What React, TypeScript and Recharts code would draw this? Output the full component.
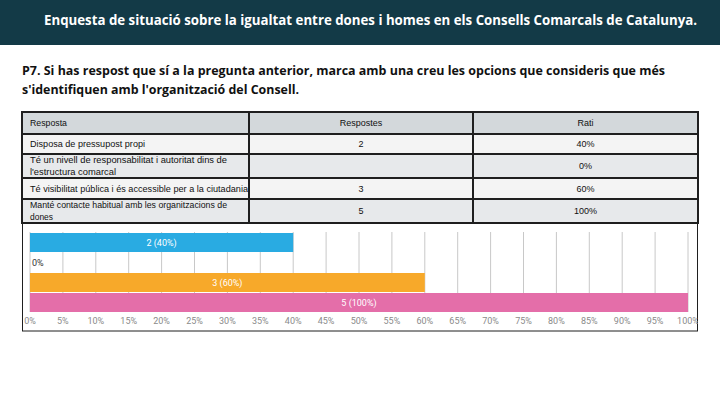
import React from "react";
import { BarChart, Bar, XAxis, YAxis, CartesianGrid, Cell, LabelList } from "recharts";

// ---- data ----
const titleText = "Enquesta de situació sobre la igualtat entre dones i homes en els Consells Comarcals de Catalunya.";
const questionLines = [
  "P7. Si has respost que sí a la pregunta anterior, marca amb una creu les opcions que consideris que més",
  "s'identifiquen amb l'organització del Consell.",
];
const tableHeaders = ["Resposta", "Respostes", "Rati"];
const categories = [
  "Disposa de pressupost propi",
  "Té un nivell de responsabilitat i autoritat dins de l'estructura comarcal",
  "Té visibilitat pública i és accessible per a la ciutadania",
  "Manté contacte habitual amb les organitzacions de dones",
];
const categoryLines = [
  ["Disposa de pressupost propi"],
  ["Té un nivell de responsabilitat i autoritat dins de", "l'estructura comarcal"],
  ["Té visibilitat pública i és accessible per a la ciutadania"],
  ["Manté contacte habitual amb les organitzacions de", "dones"],
];
const counts: (number | null)[] = [2, null, 3, 5];
const ratios = [40, 0, 60, 100];
const barColors = ["#29abe2", "transparent", "#f7a92a", "#e46ea9"];
const xTicks = [0, 5, 10, 15, 20, 25, 30, 35, 40, 45, 50, 55, 60, 65, 70, 75, 80, 85, 90, 95, 100];

const data = categories.map((name, i) => ({
  name,
  value: ratios[i],
  count: counts[i],
  label: ratios[i] > 0 ? `${counts[i]} (${ratios[i]}%)` : "0%",
}));

// ---- layout (page furniture) ----
const colX = [22, 249, 473, 698];
const rowY = [112, 134, 154, 178, 199, 223];
const rowFills = ["#d3d8db", "#f4f4f4", "#e7e9eb", "#f4f4f4", "#e7e9eb"];
const lineWidths: Record<string, number> = {
  "Resposta": 37,
  "Disposa de pressupost propi": 115,
  "Té un nivell de responsabilitat i autoritat dins de": 197,
  "l'estructura comarcal": 86,
  "Té visibilitat pública i és accessible per a la ciutadania": 218,
  "Manté contacte habitual amb les organitzacions de": 197,
  "dones": 23,
};

const headFont = "'Open Sans', 'Liberation Sans', sans-serif";
const smallFont = "'Liberation Sans', Arial, sans-serif";
const chartFont = "Roboto, 'Noto Sans', sans-serif";

const BarLabel = (props: any) => {
  const { x, y, width, height, value } = props;
  if (value === "0%") {
    return (
      <text x={x + 2} y={y + height / 2} dy="0.35em" fontSize={9} fill="#333" fontFamily={chartFont}>
        {value}
      </text>
    );
  }
  return (
    <text
      x={x + width / 2}
      y={y + height / 2}
      dy="0.35em"
      textAnchor="middle"
      fontSize={9}
      fill="#ffffff"
      fontFamily={chartFont}
    >
      {value}
    </text>
  );
};

export default function App() {
  return (
    <div style={{ position: "absolute", left: 0, top: 0, width: 720, height: 405, background: "#fff", overflow: "hidden" }}>
      <svg width={720} height={405} style={{ position: "absolute", left: 0, top: 0 }}>
        <rect x={0} y={0} width={720} height={45} fill="#133a47" />
        <text
          x={44}
          y={25}
          fontSize={14}
          fontWeight={700}
          fill="#ffffff"
          fontFamily={headFont}
          textLength={653}
          lengthAdjust="spacingAndGlyphs"
        >
          {titleText}
        </text>
        <text x={22} y={75} fontSize={13} fontWeight={700} fill="#111" fontFamily={headFont} textLength={643} lengthAdjust="spacingAndGlyphs">
          {questionLines[0]}
        </text>
        <text x={22} y={94} fontSize={13} fontWeight={700} fill="#111" fontFamily={headFont} textLength={277} lengthAdjust="spacingAndGlyphs">
          {questionLines[1]}
        </text>

        {/* table fills */}
        {rowFills.map((f, r) => (
          <rect key={"f" + r} x={colX[0]} y={rowY[r]} width={colX[3] - colX[0]} height={rowY[r + 1] - rowY[r]} fill={f} />
        ))}
        {/* header texts */}
        <text x={30} y={126} fontSize={9} fill="#111" fontFamily={smallFont} textLength={lineWidths["Resposta"]} lengthAdjust="spacingAndGlyphs">
          {tableHeaders[0]}
        </text>
        <text x={(colX[1] + colX[2]) / 2} y={126} fontSize={9} fill="#111" textAnchor="middle" fontFamily={smallFont}>
          {tableHeaders[1]}
        </text>
        <text x={(colX[2] + colX[3]) / 2} y={126} fontSize={9} fill="#111" textAnchor="middle" fontFamily={smallFont}>
          {tableHeaders[2]}
        </text>
        {categoryLines.map((lines, i) => {
          const top = rowY[i + 1];
          const bottom = rowY[i + 2];
          const mid = (top + bottom) / 2;
          const n = lines.length;
          return (
            <g key={"r" + i}>
              {lines.map((ln, k) => (
                <text
                  key={k}
                  x={30}
                  y={mid + (k - (n - 1) / 2) * 12 + 3}
                  fontSize={9}
                  fill="#111"
                  fontFamily={smallFont}
                  textLength={lineWidths[ln]}
                  lengthAdjust="spacingAndGlyphs"
                >
                  {ln}
                </text>
              ))}
              {counts[i] !== null && (
                <text x={(colX[1] + colX[2]) / 2} y={mid + 3} fontSize={9} fill="#111" textAnchor="middle" fontFamily={smallFont}>
                  {String(counts[i])}
                </text>
              )}
              <text x={(colX[2] + colX[3]) / 2} y={mid + 3} fontSize={9} fill="#111" textAnchor="middle" fontFamily={smallFont}>
                {`${ratios[i]}%`}
              </text>
            </g>
          );
        })}
        {/* table borders */}
        {rowY.map((y, r) => (
          <line key={"h" + r} x1={colX[0] - 1} x2={colX[3] + 1} y1={y} y2={y} stroke="#1f1f1f" strokeWidth={2} />
        ))}
        {colX.map((x, c) => (
          <line key={"v" + c} x1={x} x2={x} y1={rowY[0]} y2={rowY[5]} stroke="#1f1f1f" strokeWidth={2} />
        ))}
        {/* chart box */}
        <rect x={22.5} y={223} width={675} height={108} fill="none" stroke="#1f1f1f" strokeWidth={1} />
      </svg>

      <div style={{ position: "absolute", left: 22, top: 224 }}>
        <BarChart
          width={676}
          height={107}
          data={data}
          layout="vertical"
          margin={{ top: 8, right: 10, left: 8, bottom: 0 }}
          barSize={19}
        >
          <CartesianGrid horizontal={false} vertical={true} stroke="#c8c8c8" />
          <XAxis
            type="number"
            domain={[0, 100]}
            ticks={xTicks}
            interval={0}
            tickFormatter={(v: number) => `${v}%`}
            axisLine={false}
            tickLine={false}
            tickSize={4}
            tickMargin={2}
            height={19}
            tick={{ fontSize: 9, fill: "#8a8a8a", fontFamily: chartFont }}
          />
          <YAxis type="category" dataKey="name" hide />
          <Bar dataKey="value" isAnimationActive={false} minPointSize={0.5}>
            {data.map((d, i) => (
              <Cell key={i} fill={barColors[i]} />
            ))}
            <LabelList dataKey="label" content={BarLabel} />
          </Bar>
        </BarChart>
      </div>
    </div>
  );
}
